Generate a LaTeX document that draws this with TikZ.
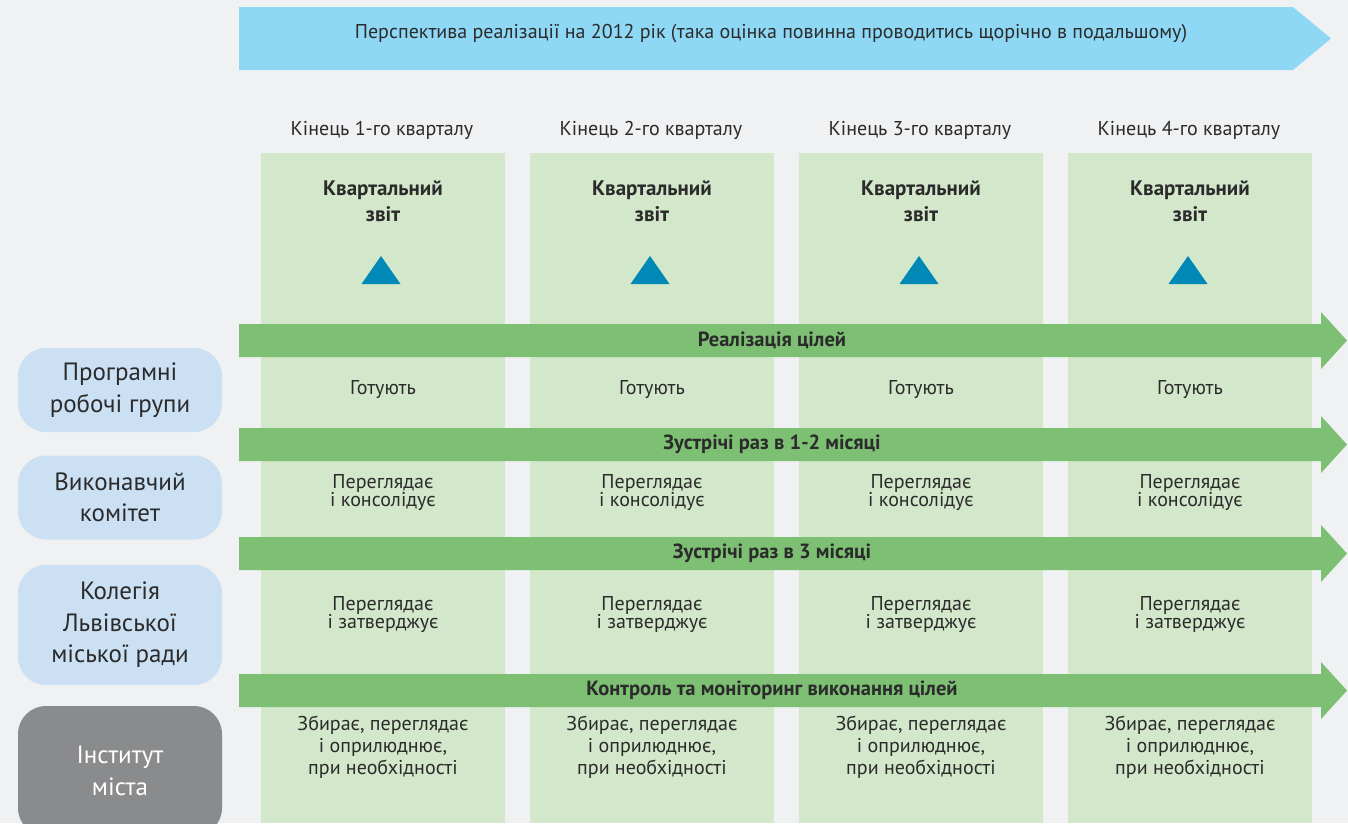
\documentclass[tikz,border=0pt]{standalone}
\usepackage{fontspec}
\setmainfont{PT Sans}
\definecolor{bg}{HTML}{F0F1F3}
\definecolor{topblue}{HTML}{8ED8F5}
\definecolor{colgreen}{HTML}{D3E7CB}
\definecolor{arrgreen}{HTML}{7DBF73}
\definecolor{boxblue}{HTML}{CCE0F4}
\definecolor{boxgray}{HTML}{8A8B8D}
\definecolor{tri}{HTML}{0089B7}
\definecolor{txt}{HTML}{2B2B2B}
\begin{document}
\begin{tikzpicture}[x=1pt,y=-1pt,
  every node/.style={text=txt, inner sep=0pt, align=center},
  small/.style={font=\fontsize{20}{22}\selectfont},
  arrtext/.style={font=\bfseries\fontsize{20.5}{22}\selectfont},
  rowtext/.style={font=\fontsize{20}{18.5}\selectfont},
  tallrow/.style={font=\fontsize{20}{22}\selectfont},
  headtext/.style={font=\bfseries\fontsize{21}{25.5}\selectfont},
  sidebox/.style={fill=boxblue, rounded corners=28pt, minimum width=204pt, font=\fontsize{25}{31.5}\selectfont},
  sidegray/.style={sidebox, fill=boxgray, text=white},
  triangle/.style={fill=tri}]
\fill[bg] (0,0) rectangle (1348,823);
\useasboundingbox (0,0) rectangle (1348,823);
% top arrow
\fill[topblue] (239,7) -- (1293,7) -- (1331,38.5) -- (1293,70) -- (239,70) -- cycle;
\node[small] (title) at (771,34) {Перспектива реалізації на 2012 рік (така оцінка повинна проводитись щорічно в подальшому)};
% columns
\foreach \i/\x in {1/261,2/530,3/799,4/1068}{
  \fill[colgreen] (\x,153) rectangle (\x+244,823);
  \node[small] (lab\i) at (\x+121,130) {Кінець \i-го кварталу};
  \node[headtext] (rep\i) at (\x+122,201) {Квартальний\\звіт};
  \fill[triangle] (\x+100.5,284) -- (\x+120,256) -- (\x+139.5,284) -- cycle;
  \node[rowtext] (prep\i) at (\x+122,390) {Готують};
  \node[rowtext] (cons\i) at (\x+122,492.5) {Переглядає\\і консолідує};
  \node[rowtext] (appr\i) at (\x+122,614.5) {Переглядає\\і затверджує};
  \node[tallrow] (coll\i) at (\x+122,747.5) {Збирає, переглядає\\і оприлюднює,\\при необхідності};
}
% green arrows
\foreach \n/\t/\lbl in {a/324/Реалізація цілей,b/428/Зустрічі раз в 1-2 місяці,c/537/Зустрічі раз в 3 місяці,d/674/Контроль та моніторинг виконання цілей}{
  \fill[arrgreen] (239,\t) -- (1321,\t) -- (1321,\t-12) -- (1347,\t+16.5) -- (1321,\t+45) -- (1321,\t+33) -- (239,\t+33) -- cycle;
  \node[arrtext] (arr\n) at (772,\t+16) {\lbl};
}
% side boxes
\node[sidebox, minimum height=84pt] (grp) at (120,390) {Програмні\\робочі групи};
\node[sidebox, minimum height=84pt] (exe) at (120,497.5) {Виконавчий\\комітет};
\node[sidebox, minimum height=120pt] (col) at (120,625) {Колегія\\Львівської\\міської ради};
\node[sidegray, minimum height=130pt] (ins) at (120,771) {Інститут\\міста};
\end{tikzpicture}
\end{document}
